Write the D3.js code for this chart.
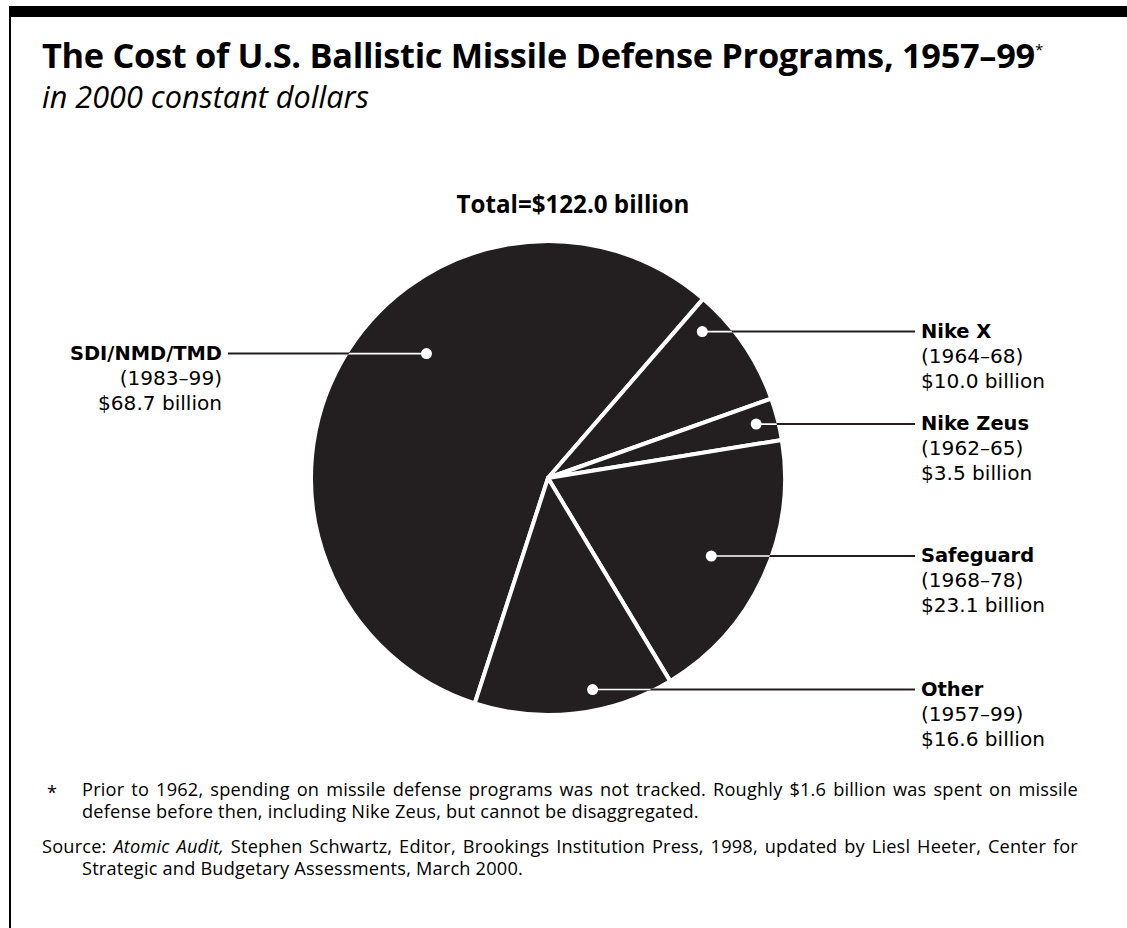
<!DOCTYPE html>
<html>
<head>
<meta charset="utf-8">
<script src="https://cdn.jsdelivr.net/npm/d3@7/dist/d3.min.js"></script>
<style>
  body { margin: 0; background: #fff; }
  svg { display: block; font-family: "Open Sans", Lato, sans-serif; }
  .callout { font-family: "DejaVu Sans", "Open Sans", sans-serif; }
</style>
</head>
<body>
<div id="chart"></div>
<script>
// Programs in pie order (clockwise, starting with SDI)
const programs = ["SDI/NMD/TMD", "Nike X", "Nike Zeus", "Safeguard", "Other"];
const years = ["(1983–99)", "(1964–68)", "(1962–65)", "(1968–78)", "(1957–99)"];
const costs = [68.7, 10.0, 3.5, 23.1, 16.6];   // billions, 2000 dollars
const total = 122.0;

// where the callout dot sits: fraction across the slice, fraction of radius
const dotAngleFrac = [0.58, 0.19, 0.49, 0.51, 0.39];
const dotRadiusFrac = [0.74, 0.905, 0.915, 0.77, 0.92];
const labelSide = ["left", "right", "right", "right", "right"];

const footnote = [
  "Prior to 1962, spending on missile defense programs was not tracked. Roughly $1.6 billion was spent on missile",
  "defense before then, including Nike Zeus, but cannot be disaggregated."
];

const W = 1127, H = 928;
const ink = "#231f20";
const cx = 548, cy = 478, R = 235;

const svg = d3.select("#chart").append("svg")
  .attr("width", W)
  .attr("height", H);

// scale a text's font size so it spans the given width
function fit(sel, width) {
  const fs = +sel.attr("font-size");
  const len = sel.node().getComputedTextLength();
  sel.attr("font-size", fs * width / len);
  return fs * width / len;
}

// frame: heavy bar on top and thin rule on the left
svg.append("rect").attr("x", 9).attr("y", 6).attr("width", W - 9).attr("height", 11).attr("fill", "#000");
svg.append("rect").attr("x", 9).attr("y", 6).attr("width", 2).attr("height", H - 6).attr("fill", "#000");

// titles
const title = svg.append("text")
  .attr("x", 42).attr("y", 68)
  .attr("font-size", 32).attr("font-weight", 700).attr("fill", "#000")
  .attr("letter-spacing", -0.3)
  .text("The Cost of U.S. Ballistic Missile Defense Programs, 1957–99");
fit(title, 992);
title.append("tspan")
  .attr("font-size", 15).attr("font-weight", 400).attr("dy", -13)
  .text("*");

const sub = svg.append("text")
  .attr("x", 42).attr("y", 108)
  .attr("font-size", 26).attr("font-style", "italic").attr("fill", "#000")
  .text("in 2000 constant dollars");
fit(sub, 327);

const tot = svg.append("text")
  .attr("x", 573).attr("y", 213)
  .attr("text-anchor", "middle")
  .attr("font-size", 22).attr("font-weight", 700).attr("fill", "#000")
  .text(`Total=$${total.toFixed(1)} billion`);
fit(tot, 233);

// pie
const data = programs.map((p, i) => ({
  name: p, years: years[i], cost: costs[i],
  af: dotAngleFrac[i], rf: dotRadiusFrac[i], side: labelSide[i]
}));

const start = -162 * Math.PI / 180;
const pie = d3.pie()
  .value(d => d.cost)
  .sort(null)
  .startAngle(start)
  .endAngle(start + 2 * Math.PI);

const arcs = pie(data);
const arc = d3.arc().innerRadius(0).outerRadius(R + 2);

const g = svg.append("g").attr("transform", `translate(${cx},${cy})`);

svg.append("clipPath").attr("id", "pieClip")
  .append("circle").attr("cx", cx).attr("cy", cy).attr("r", R);

g.selectAll("path.slice")
  .data(arcs)
  .enter()
  .append("path")
  .attr("class", "slice")
  .attr("d", arc)
  .attr("fill", ink)
  .attr("stroke", "#fff")
  .attr("stroke-width", 4)
  .attr("stroke-linejoin", "round");

// label font sizes from the widths of one value line and one name
const probe = svg.append("text").attr("class", "callout").attr("font-size", 20).text("$10.0 billion");
const labelSize = fit(probe, 124);
probe.remove();
const probeB = svg.append("text").attr("class", "callout").attr("font-weight", 700)
  .attr("font-size", 20).text("Nike Zeus");
const nameSize = fit(probeB, 108);
probeB.remove();

// callouts
const labelRightX = 921, labelLeftX = 222;
arcs.forEach(a => {
  const d = a.data;
  const ang = a.startAngle + d.af * (a.endAngle - a.startAngle);
  const r = d.rf * R;
  const dx = cx + r * Math.sin(ang);
  const dy = cy - r * Math.cos(ang);
  const lineEnd = d.side === "right" ? labelRightX - 6 : labelLeftX + 6;

  svg.append("line")
    .attr("x1", dx).attr("x2", lineEnd).attr("y1", dy).attr("y2", dy)
    .attr("stroke", ink).attr("stroke-width", 2);
  svg.append("line")
    .attr("clip-path", "url(#pieClip)")
    .attr("x1", dx).attr("x2", lineEnd).attr("y1", dy).attr("y2", dy)
    .attr("stroke", "#fff").attr("stroke-width", 1.6);
  svg.append("circle")
    .attr("cx", dx).attr("cy", dy).attr("r", 5.5).attr("fill", "#fff");

  const tx = d.side === "right" ? labelRightX : labelLeftX;
  const anchor = d.side === "right" ? "start" : "end";
  const lines = [d.name, d.years, `$${d.cost.toFixed(1)} billion`];
  lines.forEach((s, k) => {
    svg.append("text")
      .attr("class", "callout")
      .attr("x", tx)
      .attr("y", dy + 6 + k * 25)
      .attr("text-anchor", anchor)
      .attr("font-size", k === 0 ? nameSize : labelSize)
      .attr("font-weight", k === 0 ? 700 : 400)
      .attr("fill", "#000")
      .text(s);
  });
});

// notes at the bottom, first lines justified by word spacing
function justify(sel, width) {
  const txt = sel.text();
  const spaces = (txt.match(/ /g) || []).length;
  const rest = width - sel.node().getComputedTextLength();
  if (spaces) sel.attr("word-spacing", rest / spaces);
}

const noteTrack = 0.2;
const fn1 = svg.append("text").attr("x", 82).attr("y", 796).attr("font-size", 16)
  .attr("letter-spacing", noteTrack).text(footnote[0]);
const noteSize = fit(fn1, 965);
justify(fn1, 1078 - 82);
svg.append("text").attr("x", 47).attr("y", 799).attr("font-size", noteSize).text("*");
svg.append("text").attr("x", 82).attr("y", 818).attr("font-size", noteSize)
  .attr("letter-spacing", noteTrack).text(footnote[1]);

const src1 = svg.append("text").attr("x", 42).attr("y", 853).attr("font-size", noteSize)
  .attr("letter-spacing", noteTrack);
src1.append("tspan").text("Source: ");
src1.append("tspan").attr("font-style", "italic").text("Atomic Audit,");
src1.append("tspan").text(" Stephen Schwartz, Editor, Brookings Institution Press, 1998, updated by Liesl Heeter, Center for");
justify(src1, 1078 - 42);
svg.append("text").attr("x", 82).attr("y", 875).attr("font-size", noteSize)
  .attr("letter-spacing", noteTrack)
  .text("Strategic and Budgetary Assessments, March 2000.");
</script>
</body>
</html>
